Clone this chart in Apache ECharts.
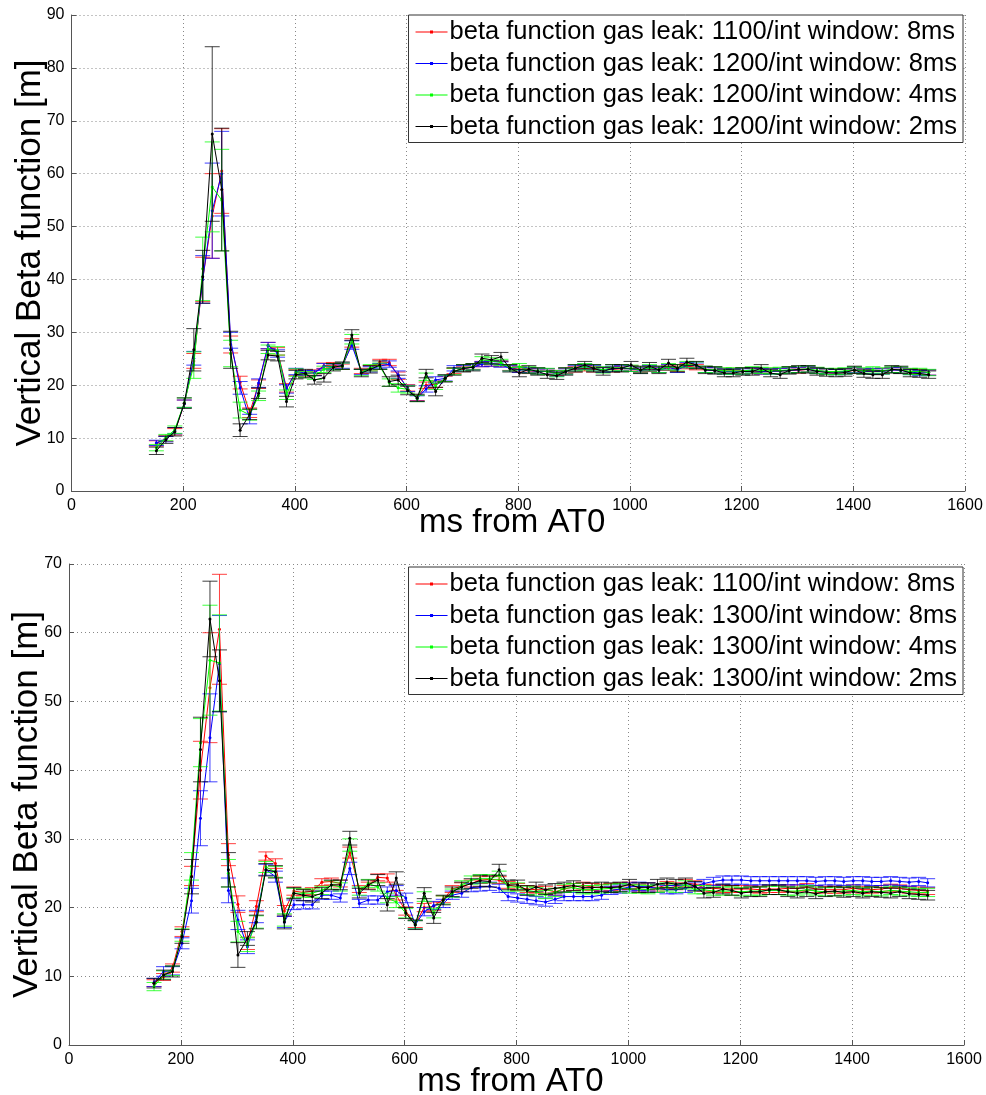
<!DOCTYPE html>
<html><head><meta charset="utf-8">
<script src="https://cdn.jsdelivr.net/npm/echarts@6/dist/echarts.min.js"></script>
<style>html,body{margin:0;padding:0;background:#fff}#c{width:986px;height:1095px}</style>
</head><body><div id="c"></div>
<script>
// time axis (ms from AT0)
const times = [152,169,185,202,219,235,252,269,285,302,319,335,352,369,385,402,419,435,452,469,485,502,519,535,552,569,585,602,619,635,652,669,685,702,719,735,752,769,785,802,819,835,852,869,885,902,919,935,952,969,985,1002,1019,1035,1052,1069,1085,1102,1119,1135,1152,1169,1185,1202,1219,1235,1252,1269,1285,1302,1319,1335,1352,1369,1385,1402,1419,1435,1452,1469,1485,1502,1519,1535];

// gas leak 1100, int window 8ms (same in both panels)
const beta1100w8 = [9,9.9,11.2,16.5,24.6,40,52,60.5,27.7,20.5,14.8,20.2,27.5,26.4,19.5,22.4,22.2,22.4,23.7,23.8,23.5,28,22.7,23.2,24.4,24.3,21.8,19.5,17.6,20,20.2,21.2,22.7,23.1,23.5,24,24.1,24,23.3,23,22.7,22.6,22.6,22.3,22.7,23,23.2,23,22.9,23,23.1,23.2,22.9,23.1,22.9,23.3,23.1,23.6,23.4,22.9,22.8,22.7,22.7,22.7,22.7,22.6,22.7,22.7,22.8,22.8,23,22.7,22.6,22.6,22.6,22.8,22.6,22.6,22.7,22.9,22.8,22.6,22.5,22.4];
const err1100w8 = [0.5,0.5,0.6,0.7,1.4,4.2,8,8,1.6,1.2,0.9,0.8,0.6,0.7,0.8,0.6,0.5,0.5,0.5,0.5,0.5,0.8,0.5,0.5,0.5,0.6,0.7,0.6,0.5,0.6,0.6,0.5,0.5,0.5,0.5,0.5,0.5,0.5,0.5,0.5,0.5,0.5,0.5,0.5,0.5,0.5,0.5,0.5,0.5,0.5,0.5,0.5,0.5,0.5,0.5,0.5,0.5,0.5,0.5,0.5,0.5,0.5,0.5,0.5,0.5,0.5,0.5,0.5,0.5,0.5,0.5,0.5,0.5,0.5,0.5,0.5,0.5,0.5,0.5,0.5,0.5,0.5,0.5,0.5];

// top panel: gas leak 1200
const beta1200w8 = [9.1,9.8,11.4,16.5,25.1,40,53,60,28.5,19.5,13.6,20.4,27.5,26,19.3,22.6,22.3,22.3,23.6,23.5,23.7,27.6,22.5,23,23.6,24,22,19.4,17.5,19.3,21,21.3,23.2,23.2,23.4,24,24.1,23.9,23.2,22.9,22.8,22.6,22.6,22.2,22.6,23.2,23.5,23.2,22.9,23.1,23.2,23.1,22.8,23.2,22.9,23.4,22.9,23.8,23.7,22.9,22.8,22.6,22.6,22.6,22.8,22.6,22.6,22.7,22.8,22.9,23,22.7,22.6,22.5,22.6,22.9,22.6,22.7,22.6,22.9,22.8,22.5,22.3,22.4];
const err1200w8 = [0.5,0.5,0.6,0.7,1.3,4.5,9,8,1.5,1.2,0.9,0.8,0.6,0.7,0.8,0.6,0.5,0.5,0.5,0.5,0.5,0.8,0.5,0.5,0.5,0.6,0.7,0.6,0.5,0.6,0.6,0.5,0.5,0.5,0.5,0.5,0.5,0.5,0.5,0.5,0.5,0.5,0.5,0.5,0.5,0.5,0.5,0.5,0.5,0.5,0.5,0.5,0.5,0.5,0.5,0.5,0.5,0.5,0.5,0.5,0.5,0.5,0.5,0.5,0.5,0.5,0.5,0.5,0.5,0.5,0.5,0.5,0.5,0.5,0.5,0.5,0.5,0.5,0.5,0.5,0.5,0.5,0.5,0.5];
const beta1200w4 = [8.2,10.1,11.6,16.7,23.8,42,57.5,55,26,15.3,14.4,18,26.8,26.5,18.2,22.4,22,21.7,23,23.5,23.6,28.7,22.4,23.3,23.6,20.5,19.5,19.2,17.5,21.6,19.9,21.3,22.6,23.3,23.5,24.8,24.6,24.3,23.3,23.5,22.9,22.7,22.6,22.2,22.7,23.3,23.5,23.3,22.9,23.3,23.3,23.2,22.9,23.3,23,23.5,23.3,23.9,23.8,23,22.9,22.7,22.7,22.7,22.9,22.8,22.7,22.8,22.9,23,23.1,22.8,22.6,22.6,22.7,22.9,22.7,22.9,22.7,23,22.9,22.6,22.6,22.4];
const err1200w4 = [0.6,0.6,0.7,0.9,2.5,6,8.5,9.6,2.5,1.5,1,0.9,0.8,0.8,0.9,0.7,0.6,0.6,0.6,0.6,0.6,0.9,0.6,0.6,0.6,0.7,0.8,0.7,0.6,0.7,0.7,0.6,0.6,0.6,0.6,0.6,0.6,0.6,0.6,0.6,0.6,0.6,0.6,0.6,0.6,0.6,0.6,0.6,0.6,0.6,0.6,0.6,0.6,0.6,0.6,0.6,0.6,0.6,0.6,0.6,0.6,0.6,0.6,0.6,0.6,0.6,0.6,0.6,0.6,0.6,0.6,0.6,0.6,0.6,0.6,0.6,0.6,0.6,0.6,0.6,0.6,0.6,0.6,0.6];
const beta1200w2 = [7.6,9.7,11.2,16.6,26.7,40.5,67.5,57,26.7,11.5,14.5,18.5,25.7,25.5,16.9,22,22.2,21,21.4,23.4,23.7,29.5,22.3,23,23.8,20.7,21,19,17.6,22.2,18.8,21.3,22.6,23.2,23.4,25.1,24.8,25.4,23.2,22.3,23,22.6,22,21.8,22.6,23.2,23.8,23.2,22.6,23.2,23.2,23.8,22.9,23.6,22.9,24.2,23.2,24.4,23.8,22.9,22.8,22.3,22.3,22.6,22.6,23.2,22.3,22,22.8,23,23,22.6,22.4,22.3,22.4,22.9,22.2,22,22,23,22.9,22.3,22.2,22];
const err1200w2 = [0.7,0.7,0.8,1,4,5,16.5,11.6,3.5,1.2,1,1,0.9,0.9,1,0.8,0.8,0.8,0.8,0.7,0.7,1,0.7,0.7,0.8,0.9,0.9,0.8,0.7,0.8,0.8,0.7,0.7,0.7,0.7,0.8,0.8,0.8,0.7,0.7,0.7,0.7,0.7,0.7,0.7,0.7,0.7,0.7,0.7,0.7,0.7,0.7,0.7,0.7,0.7,0.7,0.7,0.7,0.7,0.7,0.7,0.7,0.7,0.7,0.7,0.7,0.7,0.7,0.7,0.7,0.7,0.7,0.7,0.7,0.7,0.7,0.7,0.7,0.7,0.7,0.7,0.7,0.7,0.7];

// bottom panel: gas leak 1300
const beta1300w8 = [9.1,10.7,10.8,14.8,21,33,44.7,55.5,22.5,18.2,14.3,18.7,25.5,24.5,17.9,20.4,20.4,20.4,21.8,21.8,21.4,25.7,20.6,21.1,21.1,22.3,22.5,21.4,17.5,19.4,20.3,20.6,21.8,22.1,22.9,23,23.1,22.8,21.6,21.4,21.2,21,20.8,21.2,21.6,21.6,21.6,21.6,21.8,22.5,22.7,23,23.1,23,22.8,22.6,22.6,22.8,23.1,23.5,23.8,24,24,24,23.9,23.9,23.9,23.9,23.9,23.9,23.9,23.8,23.9,23.9,23.8,23.9,23.9,23.8,23.8,23.9,23.8,23.7,23.8,23.6];
const err1300w8 = [0.6,0.7,0.6,0.8,1.8,4,6.4,7,1.8,1.4,1,0.9,0.8,0.8,0.8,0.7,0.6,0.6,0.6,0.6,0.6,0.9,0.6,0.6,0.6,0.7,0.7,0.7,0.6,0.6,0.6,0.6,0.6,0.6,0.6,0.6,0.6,0.6,0.6,0.6,0.6,0.6,0.6,0.6,0.6,0.6,0.6,0.6,0.6,0.6,0.6,0.6,0.6,0.6,0.6,0.6,0.6,0.6,0.6,0.6,0.6,0.6,0.6,0.6,0.6,0.6,0.6,0.6,0.6,0.6,0.6,0.6,0.6,0.6,0.6,0.6,0.6,0.6,0.6,0.6,0.6,0.6,0.6,0.6];
const beta1300w4 = [8.5,10.2,10.8,16,26,44,56,55.6,25,16.5,14.6,17.9,25.9,25.2,18.2,22.1,22.1,22.1,22.5,23.3,23,29.1,22.4,23.5,23,21.4,20.8,19.2,17.5,21.6,19.2,21.1,22.1,23.3,24,24.2,24.2,24.7,23,23,22.5,22.3,21.9,22.2,22.8,22.9,22.6,22.6,22.7,22.8,22.9,22.7,22.7,22.6,22.8,23,22.8,23.3,22.6,22.6,22.4,22.4,22.4,22.3,22.4,22.4,22.5,22.5,22.4,22.4,22.6,22.4,22.3,22.3,22.4,22.5,22.3,22.4,22.3,22.5,22.4,22.3,22.2,22.2];
const err1300w4 = [0.6,0.6,0.7,0.9,2,3.5,8,7,2,1.5,1,0.9,0.8,0.8,0.9,0.7,0.6,0.6,0.6,0.6,0.6,0.9,0.6,0.6,0.6,0.7,0.8,0.7,0.6,0.7,0.7,0.6,0.6,0.6,0.6,0.6,0.6,0.6,0.6,0.6,0.6,0.6,0.6,0.6,0.6,0.6,0.6,0.6,0.6,0.6,0.6,0.6,0.6,0.6,0.6,0.6,0.6,0.6,0.6,0.6,0.6,0.6,0.6,0.6,0.6,0.6,0.6,0.6,0.6,0.6,0.6,0.6,0.6,0.6,0.6,0.6,0.6,0.6,0.6,0.6,0.6,0.6,0.6,0.6];
const beta1300w2 = [9,10.2,10.7,15.8,24.5,43,62,53,25.5,13.1,15.5,17.9,25.5,25.2,17.9,22.1,21.8,21.6,22.1,23.3,23.3,30.1,22.1,23.3,24,20.4,24.3,19.2,17.5,22.1,18.5,21.1,22.3,23,23.5,23.9,23.8,25.5,23.3,23.3,22.5,23,22.6,22.8,23,23.2,22.9,22.9,23,22.9,23,23.4,22.9,22.9,23.4,23.6,23.4,23.6,23.1,22.1,22.2,22.7,22.5,22.1,22.3,22.3,22.6,22.6,22.3,22.1,22.3,22,22.3,22.4,22.2,22.3,22.1,22.3,22.2,22.1,22.3,22,21.9,21.8];
const err1300w2 = [0.7,0.7,0.8,1,2.5,4.7,5.5,4.5,2.5,1.8,1,1,0.9,0.9,1,0.8,0.8,0.8,0.8,0.7,0.7,1,0.7,0.7,0.8,0.9,0.9,0.8,0.7,0.8,0.8,0.7,0.7,0.7,0.7,0.8,0.8,0.8,0.7,0.7,0.7,0.7,0.7,0.7,0.7,0.7,0.7,0.7,0.7,0.7,0.7,0.7,0.7,0.7,0.7,0.7,0.7,0.7,0.7,0.7,0.7,0.7,0.7,0.7,0.7,0.7,0.7,0.7,0.7,0.7,0.7,0.7,0.7,0.7,0.7,0.7,0.7,0.7,0.7,0.7,0.7,0.7,0.7,0.7];

const topNames = ['beta function gas leak: 1100/int window: 8ms','beta function gas leak: 1200/int window: 8ms','beta function gas leak: 1200/int window: 4ms','beta function gas leak: 1200/int window: 2ms'];
const botNames = ['beta function gas leak: 1100/int window: 8ms','beta function gas leak: 1300/int window: 8ms','beta function gas leak: 1300/int window: 4ms','beta function gas leak: 1300/int window: 2ms'];
const xTicks = [0,200,400,600,800,1000,1200,1400,1600];

const colors = ['#ff0000','#0000ff','#00ff00','#000000'];
const FONT = '"Liberation Sans", Arial, Helvetica, sans-serif';

function errSeries(idx, vals, errs, color, z) {
  return {
    type: 'custom', name: 'err' + idx + color, xAxisIndex: idx, yAxisIndex: idx,
    silent: true, z: z, animation: false, clip: false,
    data: times.map((t, i) => [t, vals[i], errs[i]]),
    encode: { x: 0, y: 1 },
    renderItem: function (params, api) {
      const x = api.value(0), y = api.value(1), e = api.value(2);
      const hi = api.coord([x, y + e]);
      const lo = api.coord([x, y - e]);
      const hw = 7.5;
      const st = { stroke: color, lineWidth: 1, opacity: 0.75 };
      return { type: 'group', children: [
        { type: 'line', shape: { x1: hi[0], y1: hi[1], x2: lo[0], y2: lo[1] }, style: st },
        { type: 'line', shape: { x1: hi[0] - hw, y1: hi[1], x2: hi[0] + hw, y2: hi[1] }, style: st },
        { type: 'line', shape: { x1: lo[0] - hw, y1: lo[1], x2: lo[0] + hw, y2: lo[1] }, style: st }
      ]};
    }
  };
}
function lineSeries(idx, name, vals, color, z) {
  return {
    type: 'line', name: name, xAxisIndex: idx, yAxisIndex: idx, z: z,
    data: times.map((t, i) => [t, vals[i]]),
    symbol: 'circle', symbolSize: 3, showSymbol: true, showAllSymbol: true,
    itemStyle: { color: color }, lineStyle: { color: color, width: 1 },
    emphasis: { disabled: true }, animation: false
  };
}

const topVals = [[beta1100w8, err1100w8], [beta1200w8, err1200w8], [beta1200w4, err1200w4], [beta1200w2, err1200w2]];
const botVals = [[beta1100w8, err1100w8], [beta1300w8, err1300w8], [beta1300w4, err1300w4], [beta1300w2, err1300w2]];
const series = [];
[topVals, botVals].forEach((set, idx) => {
  const names = idx === 0 ? topNames : botNames;
  set.forEach((p, k) => {
    series.push(errSeries(idx, p[0], p[1], colors[k], 2 + k * 2));
    series.push(lineSeries(idx, names[k], p[0], colors[k], 3 + k * 2));
  });
});

function xAxis(idx, gap) {
  return {
    type: 'value', gridIndex: idx, min: xTicks[0], max: xTicks[xTicks.length - 1], interval: 200,
    name: 'ms from AT0', nameLocation: 'middle', nameGap: gap, nameMoveOverlap: false,
    nameTextStyle: { fontSize: 33, color: '#000', fontFamily: FONT, verticalAlign: 'top', padding: [0, 12, 0, 0] },
    axisLine: { lineStyle: { color: '#555', width: 1 } },
    axisTick: { inside: true, length: 5, lineStyle: { color: '#555' } },
    axisLabel: { fontSize: 16, color: '#000', fontFamily: FONT, margin: 7, formatter: v => String(v) },
    splitLine: { show: true, lineStyle: { color: '#888', width: 1, type: [1, 3] } }
  };
}
function yAxis(idx, max) {
  return {
    type: 'value', gridIndex: idx, min: 0, max: max, interval: 10,
    name: 'Vertical Beta function [m]', nameLocation: 'middle', nameGap: 24, nameRotate: 90, nameMoveOverlap: false,
    nameTextStyle: { fontSize: 35, color: '#000', fontFamily: FONT },
    axisLine: { show: true, lineStyle: { color: '#555', width: 1 } },
    axisTick: { show: true, inside: true, length: 5, lineStyle: { color: '#555' } },
    axisLabel: { fontSize: 16, color: '#000', fontFamily: FONT, margin: 7 },
    splitLine: { show: true, lineStyle: { color: '#888', width: 1, type: [1, 3] } }
  };
}
const icon = 'path://M0,0L0.01,0L0,0.01Z M32,14L31.99,14L32,13.99Z M0,6.5L32,6.5L32,7.5L0,7.5Z M14.5,5.5L17.5,5.5L17.5,8.5L14.5,8.5Z';
function legend(top, names) {
  return {
    orient: 'vertical', right: 23, top: top, data: names, icon: icon,
    itemWidth: 32, itemHeight: 14, itemGap: 3.5,
    backgroundColor: '#fff', borderColor: '#333', borderWidth: 1, padding: [3, 6, 2, 7],
    textStyle: { fontSize: 25.5, color: '#000', fontFamily: FONT, lineHeight: 28, padding: [0, 0, 0, -3] },
    selectedMode: false
  };
}

const option = {
  backgroundColor: '#fff',
  animation: false,
  grid: [
    { left: 71.5, right: 21, top: 15, height: 476, containLabel: false, outerBoundsMode: 'none' },
    { left: 69, right: 22, top: 564, height: 481, containLabel: false, outerBoundsMode: 'none' }
  ],
  xAxis: [xAxis(0, 15), xAxis(1, 20)],
  yAxis: [yAxis(0, 90), yAxis(1, 70)],
  legend: [legend(15, topNames), legend(567, botNames)],
  series: series
};
const chart = echarts.init(document.getElementById('c'), null, { renderer: 'canvas' });
chart.setOption(option);
</script></body></html>
